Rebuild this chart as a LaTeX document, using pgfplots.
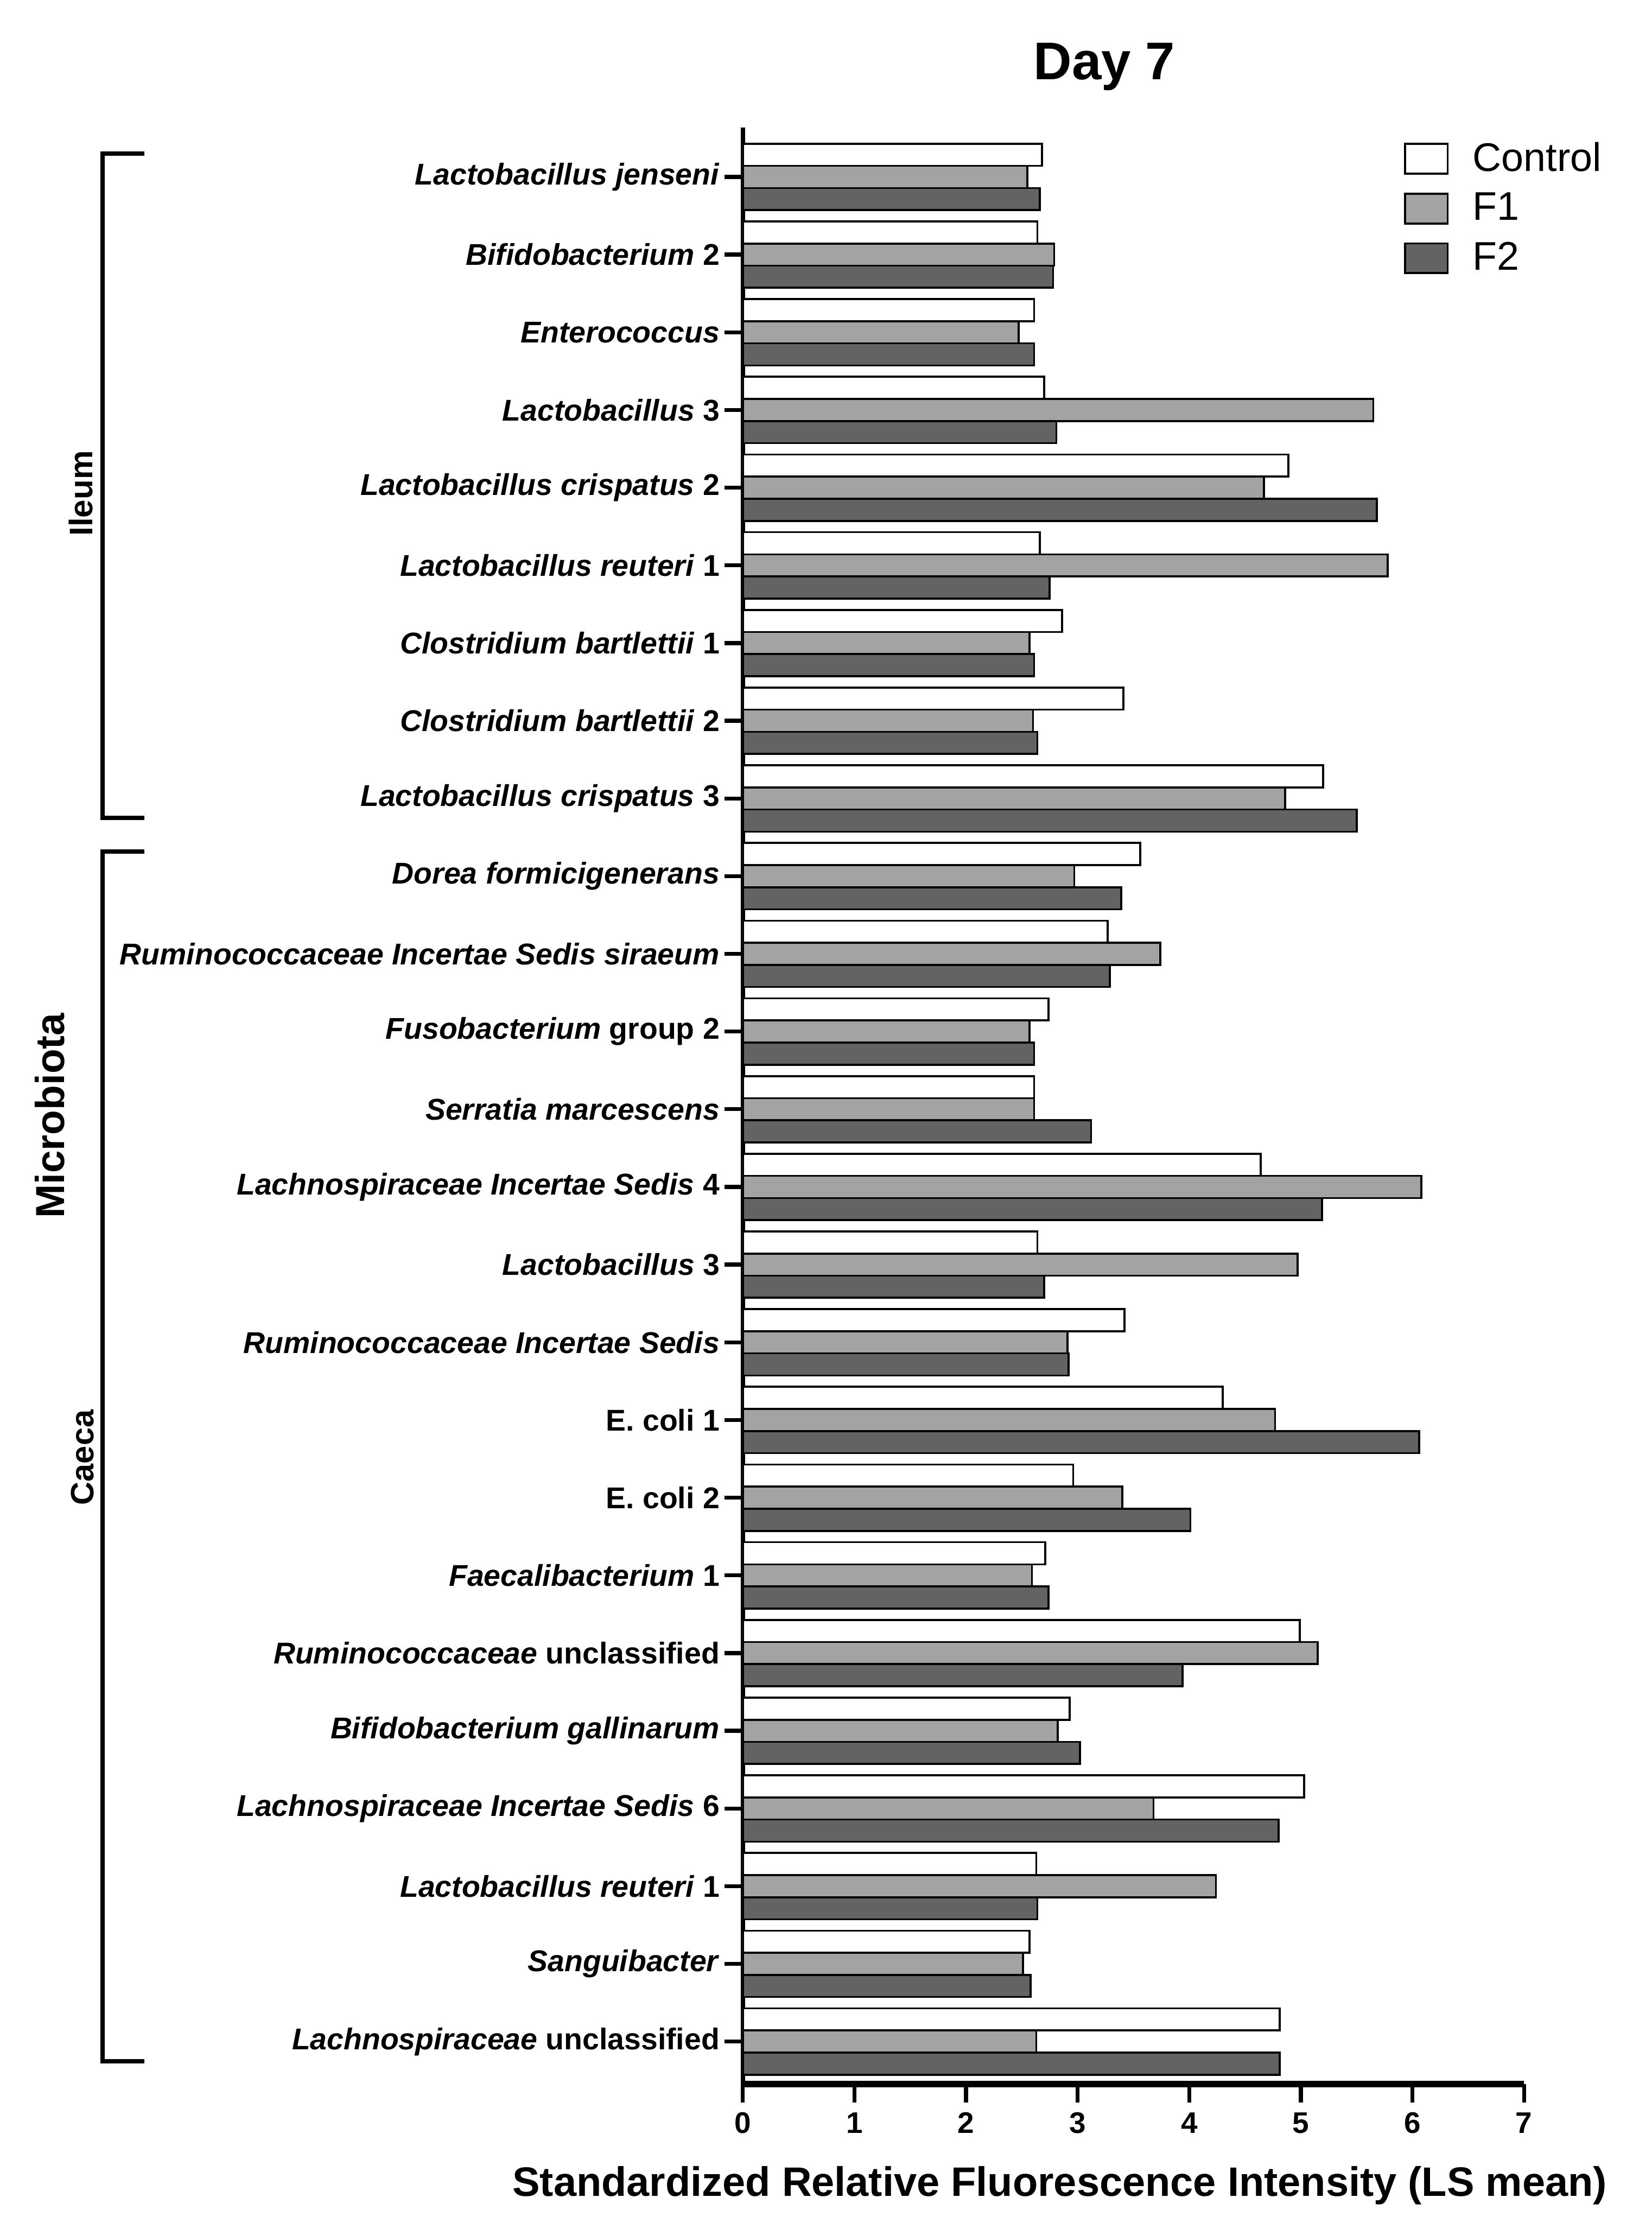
\documentclass[border=0pt]{standalone}
\usepackage{pgfplots}
\usepackage{pgfplotstable}
\pgfplotsset{compat=1.18}
\usepackage{fontspec}
\setmainfont{Liberation Sans}

\definecolor{fone}{HTML}{A3A3A3}
\definecolor{ftwo}{HTML}{636363}

% day 7, one row per taxon, y=24 is the top row
\pgfplotstableread{
y  ctrl f1   f2
24 2.68 2.55 2.66
23 2.64 2.79 2.78
22 2.61 2.47 2.61
21 2.70 5.65 2.81
20 4.89 4.67 5.68
19 2.66 5.78 2.75
18 2.86 2.57 2.61
17 3.41 2.60 2.64
16 5.20 4.86 5.50
15 3.56 2.97 3.39
14 3.27 3.74 3.29
13 2.74 2.57 2.61
12 2.61 2.61 3.12
11 4.64 6.08 5.19
10 2.64 4.97 2.70
9  3.42 2.91 2.92
8  4.30 4.77 6.06
7  2.96 3.40 4.01
6  2.71 2.59 2.74
5  4.99 5.15 3.94
4  2.93 2.82 3.02
3  5.03 3.68 4.80
2  2.63 4.24 2.64
1  2.57 2.51 2.58
0  4.81 2.63 4.81
}\daysev

\begin{document}
\begin{tikzpicture}
\path (0,0) rectangle (582.5pt,784pt);
\begin{axis}[
    at={(262pt,49pt)}, anchor=south west,
    scale only axis, width=275.5pt, height=690pt,
    xbar, bar width=7.8pt,
    xmin=0, xmax=7, ymin=-0.547, ymax=24.635,
    axis x line*=bottom, axis y line*=left,
    x axis line style={line width=2.2pt},
    y axis line style={line width=1.5pt},
    tick align=outside, major tick length=6.5pt,
    tick style={line width=1.4pt, black},
    xtick={0,...,7}, xticklabels={0,1,2,3,4,5,6,7},
    xticklabel style={font=\fontsize{10.5}{12}\selectfont\bfseries},
    ytick={0,...,24},
    yticklabels={
      \textit{Lachnospiraceae} unclassified,
      \textit{Sanguibacter},
      \textit{Lactobacillus reuteri} 1,
      \textit{Lachnospiraceae Incertae Sedis} 6,
      \textit{Bifidobacterium gallinarum},
      \textit{Ruminococcaceae} unclassified,
      \textit{Faecalibacterium} 1,
      E. coli 2,
      E. coli 1,
      \textit{Ruminococcaceae Incertae Sedis},
      \textit{Lactobacillus} 3,
      \textit{Lachnospiraceae Incertae Sedis} 4,
      \textit{Serratia marcescens},
      \textit{Fusobacterium} group 2,
      \textit{Ruminococcaceae Incertae Sedis siraeum}\hspace{3.5pt},
      \textit{Dorea formicigenerans},
      \textit{Lactobacillus crispatus} 3,
      \textit{Clostridium bartlettii} 2,
      \textit{Clostridium bartlettii} 1,
      \textit{Lactobacillus reuteri} 1,
      \textit{Lactobacillus crispatus} 2,
      \textit{Lactobacillus} 3,
      \textit{Enterococcus},
      \textit{Bifidobacterium} 2,
      \textit{Lactobacillus jenseni}},
    yticklabel style={font=\fontsize{10.6}{12}\selectfont\bfseries, inner xsep=1.5pt},
    xlabel={Standardized Relative Fluorescence Intensity (LS mean)},
    xlabel style={font=\fontsize{14.5}{17}\selectfont\bfseries,
      at={(axis description cs:0.4056,-0.05725)}, anchor=base},
    legend image code/.code={\draw[#1, line width=0.7pt] (0pt,-5.25pt) rectangle (15pt,5.25pt);},
    legend cell align=left,
    legend style={at={(axis description cs:0.8457,0.9929)}, anchor=north west,
      draw=none, fill=none, inner sep=0pt, row sep=6.2pt,
      font=\fontsize{14.1}{16}\selectfont,
      nodes={inner sep=0pt},
      /tikz/every odd column/.append style={column sep=8.5pt}},
    every axis plot/.append style={draw=black, line width=0.7pt},
  ]
  \addplot[fill=white, bar shift=7.8pt] table[x=ctrl, y=y] {\daysev};
  \addplot[fill=fone, bar shift=0pt] table[x=f1, y=y] {\daysev};
  \addplot[fill=ftwo, bar shift=-7.8pt] table[x=f2, y=y] {\daysev};
  \addlegendentry{Control}
  \addlegendentry{F1}
  \addlegendentry{F2}
\end{axis}

\node[font=\fontsize{18.7}{22}\selectfont\bfseries, anchor=base] at (389.5pt,756pt) {Day 7};

% group brackets on the left
\draw[line width=1.5pt] (51pt,729.75pt) -- (36.25pt,729.75pt) -- (36.25pt,495.5pt) -- (51pt,495.5pt);
\draw[line width=1.5pt] (51pt,483.75pt) -- (36.25pt,483.75pt) -- (36.25pt,57pt) -- (51pt,57pt);
\node[rotate=90, font=\fontsize{11.5}{13}\selectfont\bfseries] at (28.5pt,610pt) {Ileum};
\node[rotate=90, font=\fontsize{11.4}{13}\selectfont\bfseries] at (29pt,270pt) {Caeca};
\node[rotate=90, font=\fontsize{14.3}{16}\selectfont\bfseries] at (17.5pt,390.5pt) {Microbiota};
\end{tikzpicture}
\end{document}
